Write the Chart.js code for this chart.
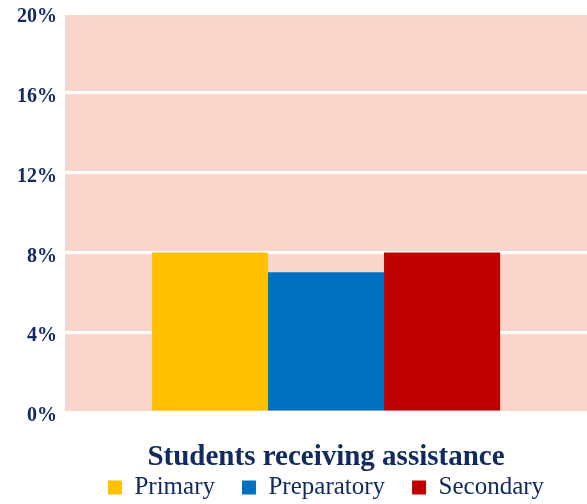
<!DOCTYPE html>
<html>
<head>
<meta charset="utf-8">
<script src="https://cdn.jsdelivr.net/npm/chart.js@4/dist/chart.umd.min.js"></script>
<style>
  body { margin: 0; background: #fff; }
  #wrap { width: 587px; height: 504px; position: relative; }
</style>
</head>
<body>
<div id="wrap"><canvas id="chart"></canvas></div>
<script>
// data
const categories = ['Students receiving assistance'];
const seriesNames = ['Primary', 'Preparatory', 'Secondary'];
const primaryValues = [8];
const preparatoryValues = [7];
const secondaryValues = [8];
const seriesColors = ['#FFC000', '#0070C0', '#C00000'];
const yTicks = [0, 4, 8, 12, 16, 20];

const navy = '#112A60';
const plotBg = '#FAD5CB';

const plotBackground = {
  id: 'plotBackground',
  beforeDraw(chart) {
    const a = chart.chartArea;
    const ctx = chart.ctx;
    ctx.save();
    ctx.fillStyle = plotBg;
    ctx.fillRect(a.left, a.top, a.right - a.left, a.bottom - a.top);
    ctx.restore();
  }
};

const values = [primaryValues, preparatoryValues, secondaryValues];
const datasets = seriesNames.map(function (name, i) {
  return {
    label: name,
    data: values[i],
    backgroundColor: seriesColors[i],
    borderWidth: 0,
    categoryPercentage: 0.667,
    barPercentage: 1.0
  };
});

new Chart(document.getElementById('chart'), {
  type: 'bar',
  data: { labels: categories, datasets: datasets },
  plugins: [plotBackground],
  options: {
    responsive: true,
    maintainAspectRatio: false,
    animation: false,
    layout: { padding: { top: 13, right: 0, bottom: -6, left: 0 } },
    scales: {
      x: {
        grid: { display: false },
        border: { display: false },
        ticks: { display: false },
        title: {
          display: true,
          text: categories[0],
          color: navy,
          font: { family: 'Liberation Serif', size: 29, weight: 'bold' },
          padding: { top: 20.6, bottom: -27.4 }
        }
      },
      y: {
        min: 0,
        max: 20,
        afterFit(scale) {
          scale.width = 65;
          scale.paddingTop = 0;
          scale.paddingBottom = 0;
        },
        afterBuildTicks(scale) { scale.ticks = yTicks.map(v => ({ value: v })); },
        grid: { color: '#FFFFFF', lineWidth: 3, drawTicks: false },
        border: { display: false },
        ticks: {
          padding: 8,
          labelOffset: 4,
          color: navy,
          font: { family: 'Liberation Serif', size: 20, weight: 'bold' },
          callback: v => v + '%'
        }
      }
    },
    plugins: {
      legend: {
        position: 'bottom',
        fullSize: false,
        labels: {
          boxWidth: 14,
          boxHeight: 14,
          padding: 27,
          color: navy,
          font: { family: 'Liberation Serif', size: 25 }
        }
      },
      tooltip: { enabled: false }
    }
  }
});
</script>
</body>
</html>
